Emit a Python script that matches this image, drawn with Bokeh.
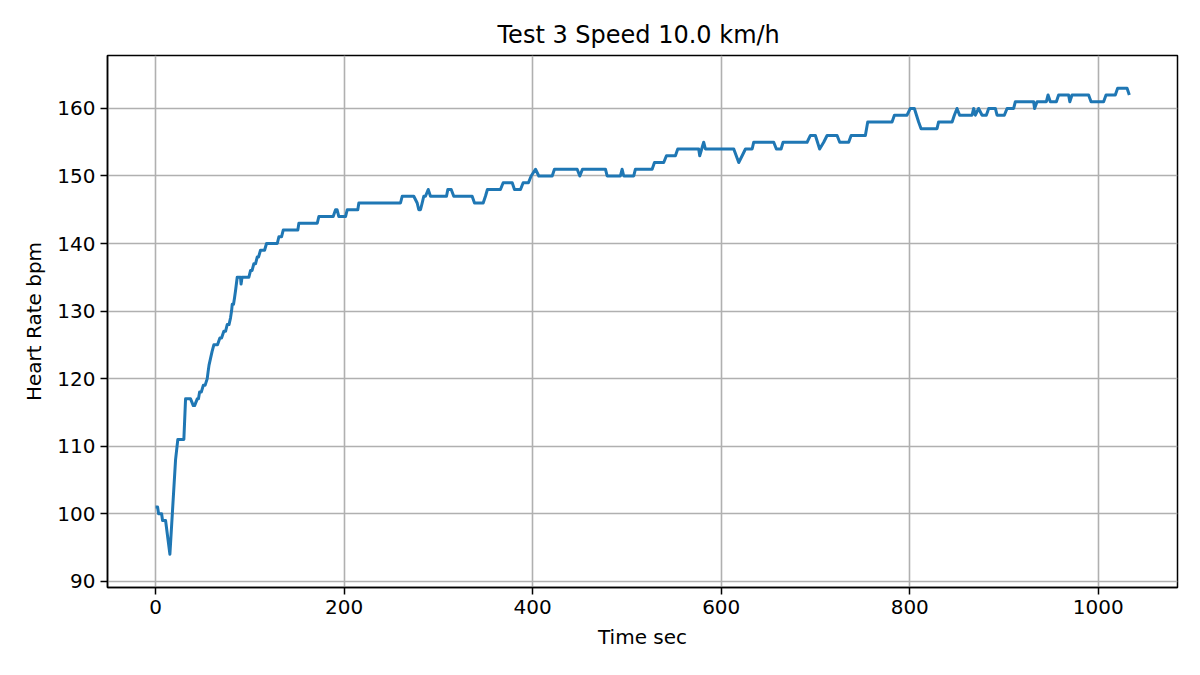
from bokeh.plotting import figure
from bokeh.models import Range1d, FixedTicker
from bokeh.embed import file_html
from bokeh.resources import INLINE

title_text = "Test 3  Speed 10.0 km/h"
x_label = "Time sec"
y_label = "Heart Rate bpm"

x_ticks = [0, 200, 400, 600, 800, 1000]
y_ticks = [90, 100, 110, 120, 130, 140, 150, 160]

time_sec = [
    0, 2.1, 3.2, 6.4, 7.4, 10.6, 15.2, 21.2, 23.6, 30.0, 31.8, 37.1, 40.0, 41.4, 44.2, 45.5,
    46.7, 48.5, 50.6, 52.5, 54.8, 55.7, 56.7, 58.3, 59.9, 61.8, 65.7, 68.2, 70.0, 72.4, 74.2,
    76.0, 77.9, 79.5,
    80.6, 81.3, 82.7, 83.8, 84.8, 86.6, 90.1, 90.7, 91.7, 98.9, 100.7, 102.3, 104.2, 106.0,
    107.8, 109.2, 111.3, 115.6, 117.7, 129.1, 130.8, 133.6, 135.4, 150.9, 152.0, 171.5, 173.2,
    188.4, 190.9, 192.5, 194.4, 201.5, 203.3, 214.5, 215.6, 259.8, 261.6, 273.9, 277.5, 279.2,
    281.0, 282.8, 284.5, 286.3, 289.2, 291.6, 308.6, 310.0, 313.6, 316.3, 335.8, 338.3, 347.5,
    349.9, 352.0, 354.5, 365.8,
    368.7, 378.3, 380.7, 387.1, 389.9, 395.5, 398.4, 403.0, 406.5, 420.7, 423.1, 447.2, 450.0,
    452.8, 477.2, 479.0, 493.1, 494.9, 496.6, 507.2, 509.0, 526.7, 529.2, 539.0, 541.9, 551.4,
    553.9, 576.1, 577.2, 581.4, 583.2, 613.3, 618.6, 622.2, 625.7, 632.8, 634.5, 655.7, 658.5,
    663.5, 665.6, 691.1, 694.6, 699.9, 704.4, 708.7, 712.3, 722.9, 725.7, 735.2, 737.8, 752.9,
    755.4, 781.2, 783.7, 797.1, 800.6, 804.9, 809.4, 812.0, 828.9, 830.6, 844.9, 847.3, 850.1,
    852.9, 866.1, 867.8, 869.6, 873.0, 876.7, 881.2, 883.7, 890.8, 892.6, 900.3, 903.2, 910.2,
    912.0, 931.4, 932.4, 935.0, 944.9, 946.7, 949.1, 955.5, 957.9, 968.5, 969.8, 972.1, 989.7,
    992.3, 1005.6, 1008.2, 1018.0, 1020.5, 1030.5, 1032.9,
]
heart_rate_bpm = [
    101, 101, 100, 100, 99, 99, 94, 108, 111, 111, 117, 117, 116, 116, 117, 117,
    118, 118, 119, 119, 120, 121, 122, 123, 124, 125, 125, 126, 126, 127, 127,
    128, 128, 129,
    130, 131, 131, 132, 133, 135, 135, 134, 135, 135, 136, 136, 137, 137,
    138, 138, 139, 139, 140, 140, 141, 141, 142, 142, 143, 143, 144,
    144, 145, 145, 144, 144, 145, 145, 146, 146, 147, 147, 146, 145,
    145, 146, 147, 147, 148, 147, 147, 148, 148, 147, 147, 146, 146,
    147, 148, 148, 148,
    149, 149, 148, 148, 149, 149, 150, 151, 150, 150, 151, 151, 150,
    151, 151, 150, 150, 151, 150, 150, 151, 151, 152, 152, 153, 153,
    154, 154, 153, 155, 154, 154, 152, 153, 154, 154, 155, 155, 154,
    154, 155, 155, 156, 156, 154, 155, 156, 156, 155, 155, 156, 156,
    158, 158, 159, 159, 160, 160, 158, 157, 157, 158, 158, 159, 160,
    159, 159, 160, 159, 160, 159, 159, 160, 160, 159, 159, 160, 160,
    161, 161, 160, 161, 161, 162, 161, 161, 162, 162, 161, 162, 162,
    161, 161, 162, 162, 163, 163, 162,
]

FONT = "DejaVu Sans"

p = figure(
    width=1200, height=675, output_backend="svg", toolbar_location=None,
    x_range=Range1d(-51, 1084), y_range=Range1d(89.07, 167.84),
    min_border_left=107, min_border_right=23, min_border_top=55, min_border_bottom=88,
    background_fill_color="white", border_fill_color="white",
)

p.title.text = title_text
p.title.align = "center"
p.title.text_font = FONT
p.title.text_font_size = "24px"
p.title.text_font_style = "normal"
p.title.text_color = "black"
p.title.standoff = 13

p.xaxis.ticker = FixedTicker(ticks=x_ticks)
p.yaxis.ticker = FixedTicker(ticks=y_ticks)
p.xgrid.ticker = FixedTicker(ticks=x_ticks)
p.ygrid.ticker = FixedTicker(ticks=y_ticks)

p.xaxis.axis_label = x_label
p.yaxis.axis_label = y_label

for ax in (p.xaxis, p.yaxis):
    ax.axis_line_color = "black"
    ax.axis_line_width = 1.5
    ax.major_tick_line_color = "black"
    ax.major_tick_line_width = 1.5
    ax.major_tick_out = 7
    ax.major_tick_in = 0
    ax.minor_tick_line_color = None
    ax.major_label_text_font = FONT
    ax.major_label_text_font_size = "20px"
    ax.major_label_text_color = "black"
    ax.major_label_standoff = 5
    ax.axis_label_text_font = FONT
    ax.axis_label_text_font_size = "20px"
    ax.axis_label_text_font_style = "normal"
    ax.axis_label_text_color = "black"
    ax.axis_label_standoff = 8

for g in (p.xgrid, p.ygrid):
    g.grid_line_color = "#b0b0b0"
    g.grid_line_width = 1.6

p.outline_line_color = "black"
p.outline_line_width = 1.5
p.outline_line_alpha = 1.0

p.line(time_sec, heart_rate_bpm, line_width=3, line_color="#1f77b4", line_join="round")

open("out.html", "w").write(file_html(p, INLINE))
